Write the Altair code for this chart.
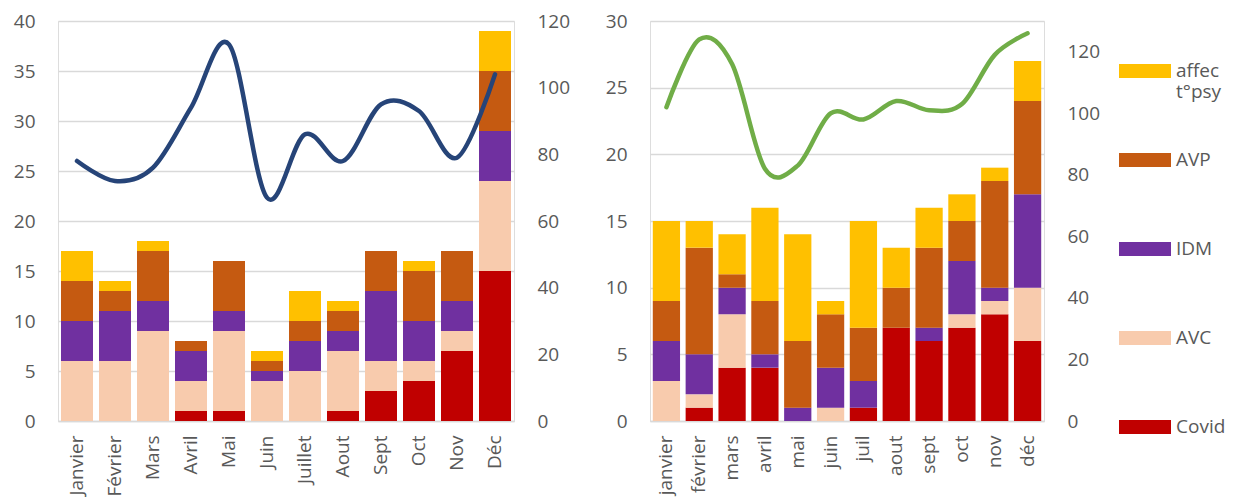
import altair as alt
import pandas as pd

# ---------------- data ----------------
cats_stack = ["Covid", "AVC", "IDM", "AVP", "affec t°psy"]          # bottom -> top
legend_order = ["affec t°psy", "AVP", "IDM", "AVC", "Covid"]        # legend top -> bottom
legend_colors = ["#ffc000", "#c55a11", "#7030a0", "#f8cbad", "#c00000"]

months_left = ["Janvier", "Février", "Mars", "Avril", "Mai", "Juin",
               "Juillet", "Aout", "Sept", "Oct", "Nov", "Déc"]
left_covid = [0, 0, 0, 1, 1, 0, 0, 1, 3, 4, 7, 15]
left_avc   = [6, 6, 9, 3, 8, 4, 5, 6, 3, 2, 2, 9]
left_idm   = [4, 5, 3, 3, 2, 1, 3, 2, 7, 4, 3, 5]
left_avp   = [4, 2, 5, 1, 5, 1, 2, 2, 4, 5, 5, 6]
left_affec = [3, 1, 1, 0, 0, 1, 3, 1, 0, 1, 0, 4]
left_line  = [78, 72, 76, 94, 113, 67, 86, 78, 95, 93, 79, 104]

months_right = ["janvier", "février", "mars", "avril", "mai", "juin",
                "juil", "aout", "sept", "oct", "nov", "déc"]
right_covid = [0, 1, 4, 4, 0, 0, 1, 7, 6, 7, 8, 6]
right_avc   = [3, 1, 4, 0, 0, 1, 0, 0, 0, 1, 1, 4]
right_idm   = [3, 3, 2, 1, 1, 3, 2, 0, 1, 4, 1, 7]
right_avp   = [3, 8, 1, 4, 5, 4, 4, 3, 6, 3, 8, 7]
right_affec = [6, 2, 3, 7, 8, 1, 8, 3, 3, 2, 1, 3]
right_line  = [102, 124, 116, 82, 83, 100, 98, 104, 101, 103, 119, 126]


def long_df(months, series):
    rows = []
    for ci, (cat, vals) in enumerate(zip(cats_stack, series)):
        for m, v in zip(months, vals):
            rows.append({"month": m, "cat": cat, "idx": ci, "value": v})
    return pd.DataFrame(rows)


df_left = long_df(months_left, [left_covid, left_avc, left_idm, left_avp, left_affec])
df_right = long_df(months_right, [right_covid, right_avc, right_idm, right_avp, right_affec])
line_left = pd.DataFrame({"month": months_left, "v": left_line})
line_right = pd.DataFrame({"month": months_right, "v": right_line})

FONT = "Open Sans"
LABEL = "#595959"
GRID = "#d9d9d9"
FS = 19

color = alt.Color(
    "cat:N",
    scale=alt.Scale(domain=legend_order, range=legend_colors),
    legend=alt.Legend(
        title=None,
        orient="none",
        legendX=1061,
        legendY=24,
        padding=0,
        symbolType="M-1,-0.27H1V0.27H-1Z",
        symbolSize=2704,
        symbolStrokeWidth=0,
        symbolOpacity=1,
        labelFontSize=FS,
        labelFont=FONT,
        labelColor=LABEL,
        labelOffset=5,
        gridAlign="all",
        rowPadding=32,
        labelExpr="datum.label == 'affec t°psy' ? ['affec', 't°psy'] : datum.label",
    ),
)


def panel(df, lines, months, ymax, y2max, y2vals, width, pin, pout, line_color):
    xenc = alt.X(
        "month:N",
        sort=months,
        title=None,
        scale=alt.Scale(paddingInner=pin, paddingOuter=pout),
        axis=alt.Axis(labelAngle=270, labelFontSize=FS, labelFont=FONT,
                      labelColor=LABEL, labelPadding=14, ticks=False,
                      domainColor=GRID, domainWidth=1.5),
    )
    bars = alt.Chart(df).mark_bar().encode(
        x=xenc,
        y=alt.Y("value:Q", stack="zero", title=None,
                scale=alt.Scale(domain=[0, ymax], nice=False),
                axis=alt.Axis(values=list(range(0, ymax + 1, 5)), grid=True,
                              gridColor=GRID, gridWidth=1.5, domain=False,
                              ticks=False, labelFontSize=FS, labelFont=FONT,
                              labelColor=LABEL, labelPadding=23)),
        color=color,
        order=alt.Order("idx:Q", sort="ascending"),
    )
    line = alt.Chart(lines).mark_line(
        interpolate="cardinal", color=line_color, strokeWidth=4.5,
        strokeCap="round", strokeJoin="round"
    ).encode(
        x=alt.X("month:N", sort=months, title=None),
        y=alt.Y("v:Q", title=None,
                scale=alt.Scale(domain=[0, y2max], nice=False),
                axis=alt.Axis(orient="right", values=y2vals, grid=False,
                              domain=False, ticks=False, labelFontSize=FS,
                              labelFont=FONT, labelColor=LABEL, labelPadding=23)),
    )
    return alt.layer(bars, line).resolve_scale(y="independent").properties(
        width=width, height=400)


left = panel(df_left, line_left, months_left, 40, 120, list(range(0, 121, 20)),
             456, 0.158, 0.079, "#264478")
right = panel(df_right, line_right, months_right, 30, 130, list(range(0, 121, 20)),
              394, 0.17, 0.085, "#70ad47")

chart = alt.hconcat(left, right, spacing=136, bounds="flush").properties(
    padding={"left": 4, "top": 3, "right": 0, "bottom": 0}
).configure_view(stroke=None).configure(font=FONT)

chart.save("out.html", embed_options={"renderer": "svg", "actions": False})
